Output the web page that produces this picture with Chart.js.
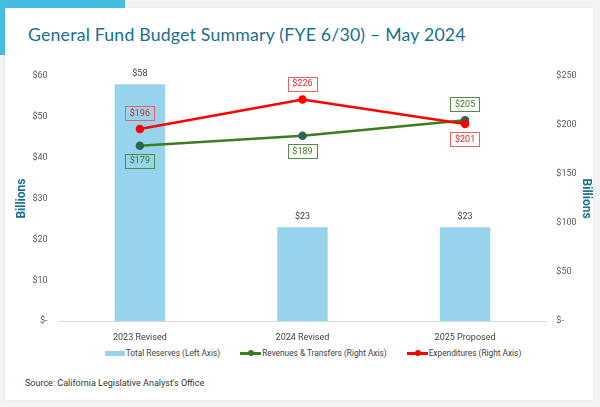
<!DOCTYPE html>
<html>
<head>
<meta charset="utf-8">
<script src="https://cdn.jsdelivr.net/npm/chart.js@4"></script>
<style>
  html, body { margin: 0; padding: 0; }
  body { width: 600px; height: 407px; background: #f3f3f3; position: relative; overflow: hidden; font-family: Roboto, "Liberation Sans", sans-serif; }
  .accent { position: absolute; left: 0; top: 0; width: 125px; height: 55px; background: #45bde0; }
  .card { position: absolute; left: 5px; top: 8px; width: 588px; height: 392px; background: #fff; box-shadow: 0 0 3px rgba(0,0,0,0.06); }
  h1 { position: absolute; left: 23px; top: 16px; margin: 0; font: 400 17.7px Lato, "Open Sans", sans-serif; color: #17708f; letter-spacing: 0.2px; }
  .chart-box { position: absolute; left: 0; top: 52px; width: 588px; height: 286px; }
  .legend { position: absolute; left: 14px; top: 340px; width: 588px; display: flex; justify-content: center; gap: 20px; font-size: 8.3px; color: #404040; }
  .legend span.item { display: flex; align-items: center; }
  .sw-bar { display: inline-block; width: 20px; height: 5px; background: #97d3ec; margin-right: 1px; }
  .sw-line { display: inline-block; width: 21px; height: 3px; position: relative; margin-right: 1px; }
  .sw-line::after { content: ""; position: absolute; left: 8px; top: -2px; width: 6px; height: 6px; border-radius: 50%; background: inherit; }
  .source { position: absolute; left: 20px; top: 370px; font-size: 9px; color: #333; }
</style>
</head>
<body>
<div class="accent"></div>
<div class="card">
  <h1>General Fund Budget Summary (FYE 6/30) – May 2024</h1>
  <div class="chart-box"><canvas id="budgetChart"></canvas></div>
  <div class="legend">
    <span class="item"><span class="sw-bar"></span>Total Reserves (Left Axis)</span>
    <span class="item"><span class="sw-line" style="background:#3a7d22"></span>Revenues &amp; Transfers (Right Axis)</span>
    <span class="item"><span class="sw-line" style="background:#ff0000"></span>Expenditures (Right Axis)</span>
  </div>
  <div class="source">Source: California Legislative Analyst's Office</div>
</div>

<script>
// ---- data (billions) ----
const categories = ["2023 Revised", "2024 Revised", "2025 Proposed"];
const reserves = [58, 23, 23];
const revenues = [179, 189, 205];
const expenditures = [196, 226, 201];
const leftTicks = [0, 10, 20, 30, 40, 50, 60];
const rightTicks = [0, 50, 100, 150, 200, 250];

const money = v => (v === 0 ? "$-" : "$" + v);

// draws the value labels (bars plain, lines in a bordered box)
const valueLabels = {
  id: "valueLabels",
  afterDatasetsDraw(chart) {
    const ctx = chart.ctx;
    ctx.save();
    ctx.font = "9px Roboto, 'Liberation Sans', sans-serif";
    ctx.textAlign = "center";
    ctx.textBaseline = "middle";

    // bar labels
    chart.getDatasetMeta(0).data.forEach((bar, i) => {
      ctx.fillStyle = "#404040";
      ctx.fillText(money(reserves[i]), bar.x, bar.y - 10);
    });

    // line labels: higher line gets its label above, lower one below
    [1, 2].forEach(di => {
      const ds = chart.data.datasets[di];
      const other = chart.data.datasets[di === 1 ? 2 : 1];
      chart.getDatasetMeta(di).data.forEach((pt, i) => {
        const above = ds.data[i] > other.data[i];
        const txt = money(ds.data[i]);
        const w = ctx.measureText(txt).width + 9;
        const h = 14;
        const cy = above ? pt.y - 16 : pt.y + 15;
        ctx.strokeStyle = ds.labelBorder;
        ctx.lineWidth = 1;
        ctx.strokeRect(Math.round(pt.x - w / 2) + 0.5, Math.round(cy - h / 2) + 0.5, Math.round(w), h);
        ctx.fillStyle = ds.labelColor;
        ctx.fillText(txt, pt.x, cy + 0.5);
      });
    });
    ctx.restore();
  }
};

document.addEventListener("DOMContentLoaded", () => {
  const ctx = document.getElementById("budgetChart");
  const tickFont = { family: "Roboto, 'Liberation Sans', sans-serif", size: 9 };
  const titleFont = { family: "Roboto, 'Liberation Sans', sans-serif", size: 12, weight: "bold" };

  new Chart(ctx, {
    type: "bar",
    data: {
      labels: categories,
      datasets: [
        {
          type: "bar",
          label: "Total Reserves (Left Axis)",
          data: reserves,
          backgroundColor: "#97d3ec",
          yAxisID: "y",
          barPercentage: 0.31,
          categoryPercentage: 1,
          order: 2
        },
        {
          type: "line",
          label: "Revenues & Transfers (Right Axis)",
          data: revenues,
          borderColor: "#3a7d22",
          borderWidth: 2.5,
          pointRadius: 3,
          pointBackgroundColor: "#2b6355",
          pointBorderColor: "#2b6355",
          labelColor: "#3a7d22",
          labelBorder: "#4f8f45",
          yAxisID: "y1",
          order: 1
        },
        {
          type: "line",
          label: "Expenditures (Right Axis)",
          data: expenditures,
          borderColor: "#ff0000",
          borderWidth: 2.5,
          pointRadius: 3,
          pointBackgroundColor: "#ff0000",
          pointBorderColor: "#ff0000",
          labelColor: "#ee2222",
          labelBorder: "#f06060",
          yAxisID: "y1",
          order: 0
        }
      ]
    },
    options: {
      responsive: true,
      maintainAspectRatio: false,
      animation: false,
      layout: { padding: { top: 16, left: 10, right: 0, bottom: 0 } },
      plugins: {
        legend: { display: false },
        tooltip: { enabled: false }
      },
      scales: {
        x: {
          grid: { display: false },
          border: { color: "#d9d9d9" },
          ticks: { color: "#404040", font: tickFont, padding: 3 }
        },
        y: {
          position: "left",
          min: 0,
          max: 60,
          afterBuildTicks: axis => { axis.ticks = leftTicks.map(v => ({ value: v })); },
          grid: { display: false },
          border: { display: false },
          ticks: { color: "#595959", font: tickFont, padding: 3, callback: money },
          title: { display: true, text: "Billions", color: "#17708f", font: titleFont, padding: 0 }
        },
        y1: {
          position: "right",
          min: 0,
          max: 250,
          afterBuildTicks: axis => { axis.ticks = rightTicks.map(v => ({ value: v })); },
          grid: { display: false },
          border: { display: false },
          ticks: { color: "#595959", font: tickFont, padding: 2, callback: money },
          title: { display: true, text: "Billions", color: "#17708f", font: titleFont, padding: 0 }
        }
      }
    },
    plugins: [valueLabels]
  });
});
</script>
</body>
</html>
